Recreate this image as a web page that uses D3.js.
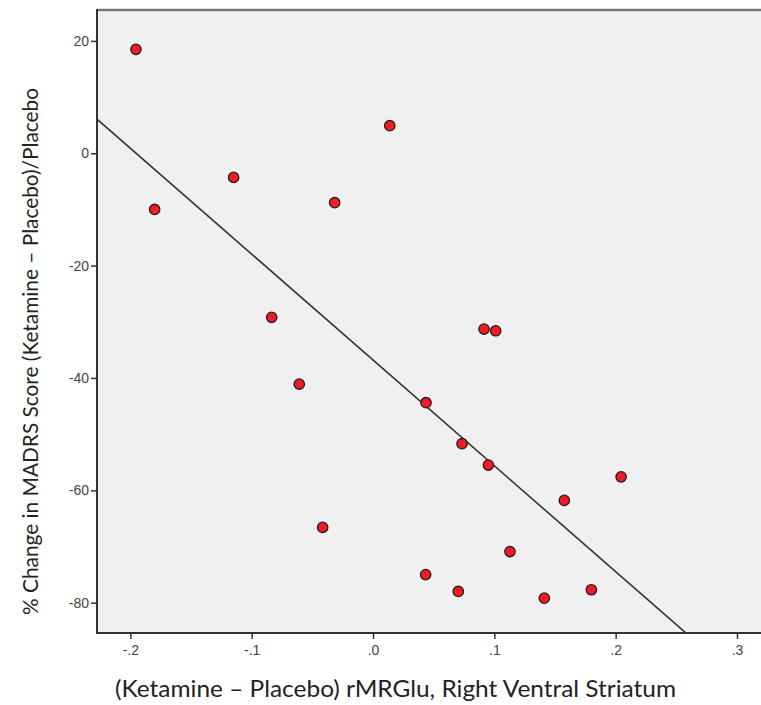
<!DOCTYPE html>
<html>
<head>
<meta charset="utf-8">
<script src="https://cdn.jsdelivr.net/npm/d3@7"></script>
<style>
  html, body { margin: 0; padding: 0; background: #fff; }
  svg { display: block; }
</style>
</head>
<body>
<svg id="chart" width="761" height="705"></svg>
<script>
// ---- data ----
const xValues = [-0.1954, -0.180, -0.1149, -0.0316, 0.0138, -0.0835, -0.0608, -0.0415,
                 0.0915, 0.1011, 0.0437, 0.0734, 0.0951, 0.2045, 0.1577, 0.1129,
                 0.0434, 0.0703, 0.1412, 0.180];
const yValues = [18.5, -10.0, -4.3, -8.8, 4.9, -29.2, -41.1, -66.6,
                 -31.3, -31.6, -44.4, -51.7, -55.5, -57.6, -61.8, -70.9,
                 -75.0, -78.0, -79.2, -77.7];
const xTicks = [-0.2, -0.1, 0.0, 0.1, 0.2, 0.3];
const xTickLabels = ["-.2", "-.1", ".0", ".1", ".2", ".3"];
const yTicks = [20, 0, -20, -40, -60, -80];
const yTickLabels = ["20", "0", "-20", "-40", "-60", "-80"];
const fitIntercept = -36.8;
const fitSlope = -188.4;
const xTitle = "(Ketamine \u2013 Placebo) rMRGlu, Right Ventral Striatum";
const yTitle = "% Change in MADRS Score (Ketamine \u2013 Placebo)/Placebo";

// ---- layout ----
const pL = 97, pT = 10, pR = 761, pB = 633;
const svg = d3.select("#chart");
const x = d3.scaleLinear().domain([-0.2275, 0.3198]).range([pL, pR]);
const y = d3.scaleLinear().domain([25.5, -85.4]).range([pT, pB]);

// background
svg.append("rect").attr("x", pL).attr("y", pT)
  .attr("width", pR - pL + 5).attr("height", pB - pT)
  .attr("fill", "#f0f0f0");

// clip
svg.append("clipPath").attr("id", "clip").append("rect")
  .attr("x", pL).attr("y", pT).attr("width", pR - pL).attr("height", pB - pT);

// top border
svg.append("line").attr("x1", pL).attr("x2", pR + 5)
  .attr("y1", pT).attr("y2", pT)
  .attr("stroke", "#777").attr("stroke-width", 2.5);

// fit line
const xd = x.domain();
const fitLine = d3.line().x(d => x(d[0])).y(d => y(d[1]));
svg.append("path")
  .attr("clip-path", "url(#clip)")
  .attr("d", fitLine([[xd[0], fitIntercept + fitSlope * xd[0]], [xd[1], fitIntercept + fitSlope * xd[1]]]))
  .attr("stroke", "#333").attr("stroke-width", 1.6).attr("fill", "none");

// axes
const yAxis = d3.axisLeft(y).tickValues(yTicks).tickSize(6).tickPadding(2)
  .tickFormat((d, i) => yTickLabels[i]);
const gy = svg.append("g").attr("transform", `translate(${pL},0)`).call(yAxis);
const xAxis = d3.axisBottom(x).tickValues(xTicks).tickSize(6).tickPadding(6)
  .tickFormat((d, i) => xTickLabels[i]);
const gx = svg.append("g").attr("transform", `translate(0,${pB})`).call(xAxis);

[gx, gy].forEach(g => {
  g.select(".domain").attr("stroke", "#333").attr("stroke-width", 2);
  g.selectAll(".tick line").attr("stroke", "#333").attr("stroke-width", 1.5);
  g.selectAll(".tick text").attr("fill", "#444")
    .style("font-family", "'Liberation Sans', Arial, sans-serif").style("font-size", "14px");
});
gy.select(".domain").attr("d", `M0,${pT - 1}V${pB + 1}`);
gx.select(".domain").attr("d", `M${pL - 1},0H${pR + 5}`);

// points
svg.append("g").selectAll("circle")
  .data(xValues.map((v, i) => [v, yValues[i]]))
  .join("circle")
  .attr("cx", d => x(d[0])).attr("cy", d => y(d[1]))
  .attr("r", 5.2)
  .attr("fill", "#ee1c25").attr("stroke", "#2a1a1a").attr("stroke-width", 1.3);

// titles
svg.append("text")
  .attr("x", 395.5).attr("y", 697)
  .attr("text-anchor", "middle")
  .attr("textLength", 561).attr("lengthAdjust", "spacingAndGlyphs")
  .style("font-family", "Lato, 'Open Sans', sans-serif").style("font-size", "24px")
  .attr("fill", "#222")
  .text(xTitle);

svg.append("text")
  .attr("transform", "translate(38,351.5) rotate(-90)")
  .attr("text-anchor", "middle")
  .attr("textLength", 527).attr("lengthAdjust", "spacingAndGlyphs")
  .style("font-family", "Lato, 'Open Sans', sans-serif").style("font-size", "22px")
  .attr("fill", "#222")
  .text(yTitle);
</script>
</body>
</html>
